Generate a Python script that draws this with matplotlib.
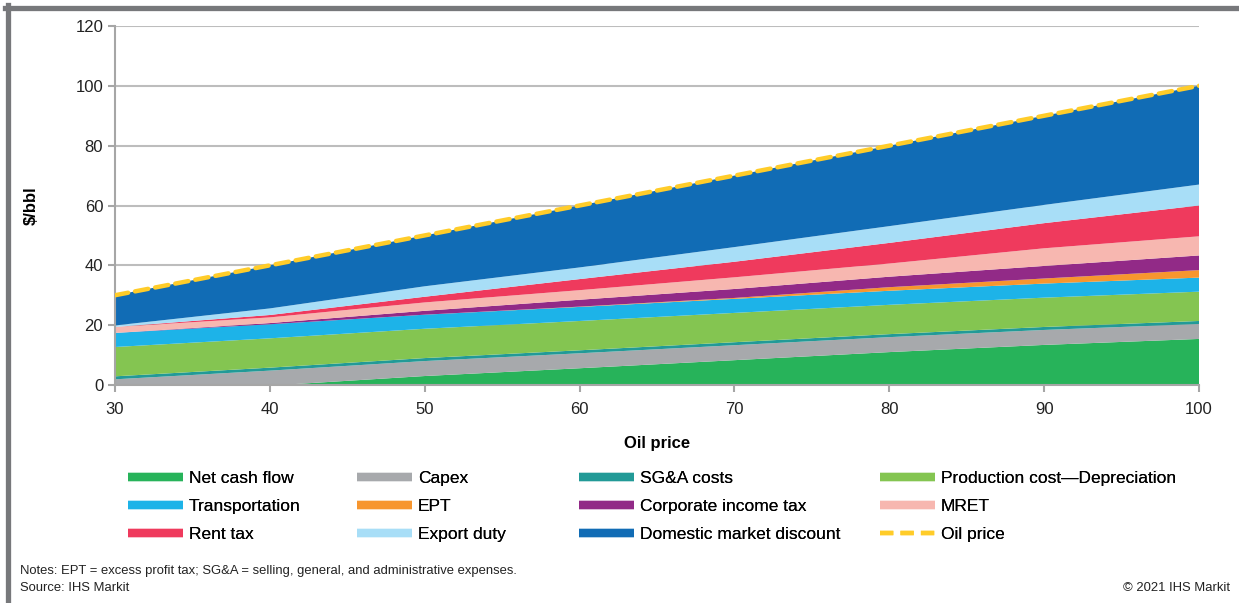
import matplotlib
matplotlib.use('Agg')
import matplotlib.pyplot as plt
from matplotlib.lines import Line2D

plt.rcParams['font.family'] = ['Liberation Sans', 'DejaVu Sans']

# Oil price scenarios ($/bbl)
oil_price = [30, 40, 50, 60, 70, 80, 90, 100]

# Components of the oil price, $/bbl (bottom to top of the stack)
net_cash_flow = [-3.1, -0.2, 3.0, 5.6, 8.3, 11.0, 13.4, 15.4]
capex = [5.0, 5.0, 5.0, 5.0, 5.0, 5.0, 5.0, 5.0]
sga_costs = [1.0, 1.0, 1.0, 1.0, 1.0, 1.0, 1.0, 1.0]
production_cost = [9.8, 9.8, 9.8, 9.8, 9.8, 9.8, 9.8, 9.8]
transportation = [4.7, 4.7, 4.7, 4.7, 4.7, 4.7, 4.7, 4.7]
ept = [0.0, 0.0, 0.0, 0.1, 0.3, 1.2, 1.7, 2.5]
corporate_tax = [0.0, 0.4, 1.3, 2.3, 3.0, 3.5, 4.2, 4.9]
mret = [2.0, 1.9, 2.8, 3.2, 3.9, 4.4, 5.9, 6.4]
rent_tax = [0.0, 0.8, 1.9, 3.7, 5.2, 6.9, 8.4, 10.3]
export_duty = [0.5, 2.2, 3.5, 3.9, 4.9, 5.6, 6.1, 7.0]
domestic_discount = [10.1, 14.4, 17.0, 20.7, 23.9, 26.9, 29.8, 33.0]

labels = ['Net cash flow', 'Capex', 'SG&A costs', 'Production cost\u2014Depreciation',
          'Transportation', 'EPT', 'Corporate income tax', 'MRET',
          'Rent tax', 'Export duty', 'Domestic market discount']
colors = ['#27B35A', '#A7A9AC', '#229A97', '#84C551',
          '#1DB3E8', '#F7962F', '#922A87', '#F7B7B0',
          '#EF3A5D', '#A8DEF7', '#116CB5']
series = [net_cash_flow, capex, sga_costs, production_cost, transportation, ept,
          corporate_tax, mret, rent_tax, export_duty, domestic_discount]

fig = plt.figure(figsize=(12.39, 6.03), dpi=100)
ax = fig.add_axes([115/1239, 1-385/603, (1199-115)/1239, (385-26)/603])

ax.stackplot(oil_price, *series, colors=colors, labels=labels, linewidth=0)
ax.plot(oil_price, oil_price, color='#FFCC29', lw=3.2, dashes=(3, 1.6),
        label='Oil price', dash_capstyle='round', zorder=5)

ax.set_xlim(30, 100)
ax.set_ylim(0, 120)
ax.set_xticks(range(30, 101, 10))
ax.set_yticks(range(0, 121, 20))
ax.yaxis.grid(True, color='#BDBDBD', lw=1.5)
ax.set_axisbelow(True)
for s in ['top', 'right']:
    ax.spines[s].set_visible(False)
for s in ['left', 'bottom']:
    ax.spines[s].set_color('#A6A6A6')
    ax.spines[s].set_linewidth(1.5)
ax.tick_params(axis='both', labelsize=12, colors='#A6A6A6', labelcolor='#222222',
               length=5, width=1.5)
ax.tick_params(axis='x', pad=7)
ax.set_xlabel('Oil price', fontsize=12, fontweight='bold', labelpad=14)
ax.set_ylabel('$/bbl', fontsize=12, fontweight='bold', labelpad=26)

# legend, four columns placed like the original
leg_handles = [Line2D([], [], color=c, lw=6, solid_capstyle='butt') for c in colors]
leg_handles.append(Line2D([], [], color='#FFCC29', lw=3.2, dashes=(3, 1.6)))
leg_labels = labels + ['Oil price']
col_x = [121, 350, 572, 873]
for ci in range(4):
    idx = [i for i in (ci, ci + 4, ci + 8) if i < len(leg_labels)]
    lg = fig.legend([leg_handles[i] for i in idx], [leg_labels[i] for i in idx],
                    loc='upper left', bbox_to_anchor=(col_x[ci]/1239, 1-464/603),
                    frameon=False, fontsize=12.5, handlelength=3.15, handletextpad=0.35,
                    labelspacing=0.74, borderaxespad=0)
    fig.add_artist(lg)

fig.text(20/1239, 1-571/603, 'Notes: EPT = excess profit tax; SG&A = selling, general, and administrative expenses.',
         fontsize=9.4, va='center', color='#222222')
fig.text(20/1239, 1-588/603, 'Source: IHS Markit', fontsize=9.4, va='center', color='#222222')
fig.text(1230/1239, 1-588/603, '\u00a9 2021 IHS Markit', fontsize=9.4, va='center', ha='right', color='#222222')

# frame around figure (top and left)
fig.add_artist(Line2D([5/1239, 1], [1-7.5/603, 1-7.5/603], color='#77787B', lw=3.8, transform=fig.transFigure))
fig.add_artist(Line2D([7.5/1239, 7.5/1239], [0, 1-5/603], color='#77787B', lw=3.8, transform=fig.transFigure))

fig.savefig('out.png', dpi=100)
